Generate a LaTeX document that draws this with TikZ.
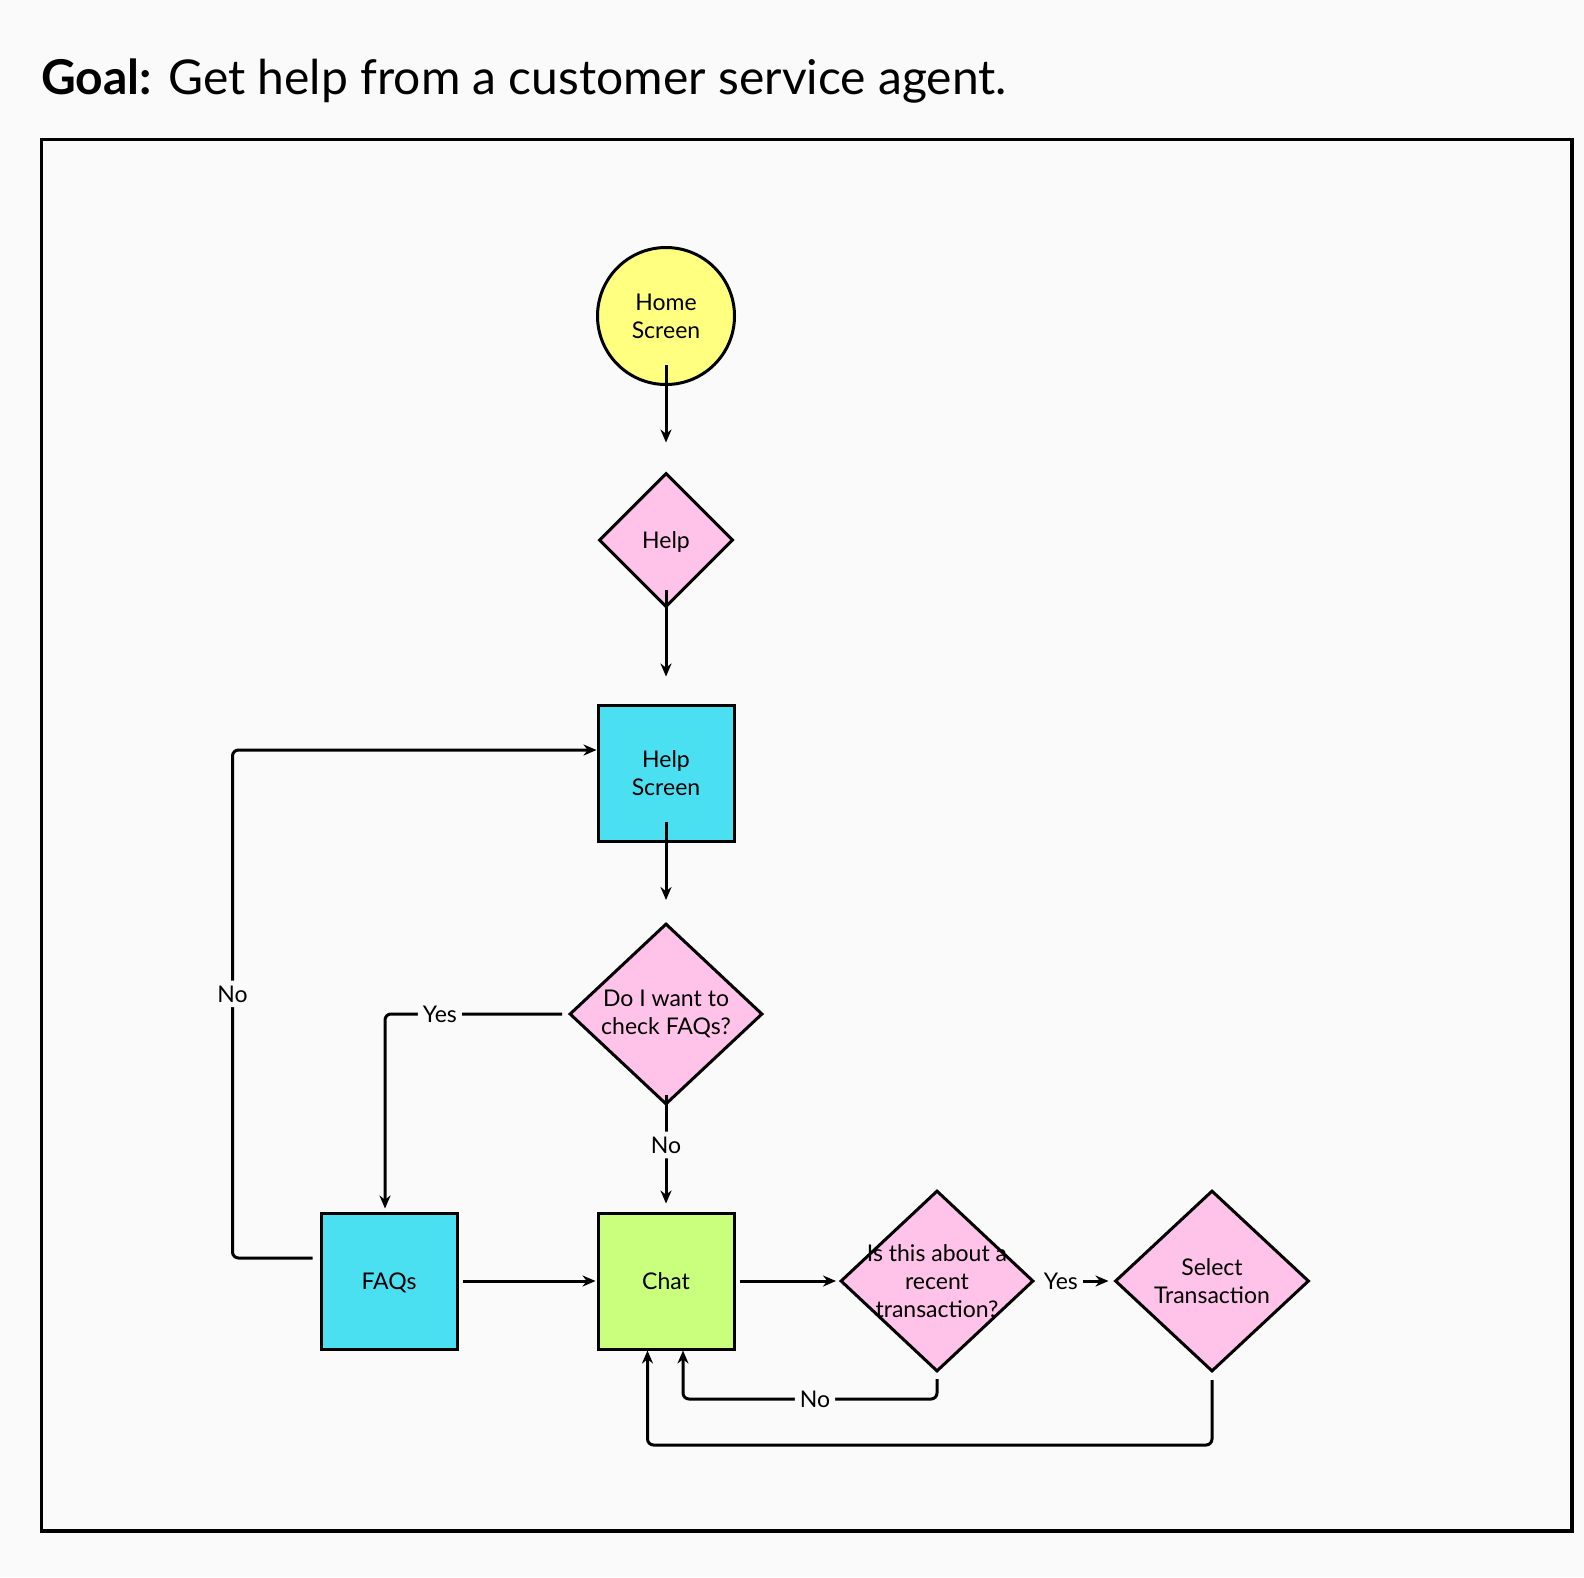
\documentclass[tikz,border=0pt]{standalone}
\usepackage{fontspec}
\setmainfont{Lato}
\usetikzlibrary{arrows.meta,shapes.geometric}
\definecolor{pagebg}{HTML}{FAFAFA}
\definecolor{startfill}{HTML}{FFFF80}
\definecolor{decisionfill}{HTML}{FFC2E8}
\definecolor{screenfill}{HTML}{4BDFF2}
\definecolor{chatfill}{HTML}{C9FF7C}

\begin{document}
\begin{tikzpicture}[x=1pt, y=-1pt, >={Stealth[length=13pt,width=11pt]},
  every node/.style={font=\fontsize{23}{28}\selectfont, align=center},
  start/.style={circle, draw, fill=startfill, line width=3pt, minimum size=137pt, inner sep=0pt},
  screen/.style={rectangle, draw, fill=screenfill, line width=3pt, minimum size=136pt, inner sep=0pt},
  decision/.style={diamond, draw, fill=decisionfill, line width=3pt, inner sep=0pt},
  conn/.style={->, line width=3pt, rounded corners=6pt},
  lbl/.style={fill=pagebg, inner sep=5pt}]

  % Page and frame
  \useasboundingbox[fill=pagebg] (0,0) rectangle (1584,1577);
  \draw[line width=3.2pt] (41.5,139.5) rectangle (1572,1531);

  % Title
  \node[anchor=base west, font=\fontsize{48}{56}\selectfont, inner sep=0pt] (title) at (41,94)
    {\textbf{Goal:} Get help from a customer service agent.};

  % Steps
  \node[start] (home) at (666,316) {Home\\Screen};
  \node[decision, minimum width=134pt, minimum height=134pt, text depth=0pt] (help) at (666,540) {Help};
  \node[screen] (hscreen) at (666,773) {Help\\Screen};
  \node[decision, minimum width=193pt, minimum height=181pt,
    label={center:Do I want to\\check FAQs?}] (faqq) at (666,1014) {};
  \node[screen, text depth=0pt] (faqs) at (389,1281) {FAQs};
  \node[screen, fill=chatfill, text depth=0pt] (chat) at (666,1281) {Chat};
  \node[decision, minimum width=193pt, minimum height=181pt,
    label={center:Is this about a\\recent\\transaction?}] (recent) at (937,1281) {};
  \node[decision, minimum width=194pt, minimum height=181pt,
    label={center:Select\\Transaction}] (select) at (1212,1281) {};

  % Main flow
  \draw[conn, shorten <=-21pt, shorten >=29pt] (home.south) -- (help.north);
  \draw[conn, shorten <=-19pt, shorten >=27pt] (help.south) -- (hscreen.north);
  \draw[conn, shorten <=-21pt, shorten >=22pt] (hscreen.south) -- (faqq.north);
  \draw[conn, shorten <=-11pt, shorten >=8pt] (faqq.south) -- node[lbl, pos=0.37] {No} (chat.north);
  \draw[conn, shorten <=6pt, shorten >=3pt] (faqq.west) -| node[lbl, pos=0.35] {Yes} ([xshift=-4pt]faqs.north);
  \draw[conn, shorten <=4pt, shorten >=1pt] (faqs) -- (chat);
  \draw[conn, shorten <=4pt, shorten >=3pt] (chat) -- (recent);
  \draw[conn, shorten <=4pt, shorten >=5pt] (recent.east) -- node[lbl, pos=0.33] {Yes} (select.west);

  % Loops back
  \draw[conn, shorten <=7pt] ([yshift=23pt]faqs.west) -- ++(-87,0)
    |- node[lbl, pos=0.26] {No} ([yshift=23pt]hscreen.west);
  \draw[conn, shorten <=6pt] (recent.south) -- ++(0,26)
    -| node[lbl, pos=0.24] {No} ([xshift=17pt]chat.south);
  \draw[conn, shorten <=7pt] (select.south) -- ++(0,72) -| ([xshift=-18.5pt]chat.south);

\end{tikzpicture}
\end{document}
